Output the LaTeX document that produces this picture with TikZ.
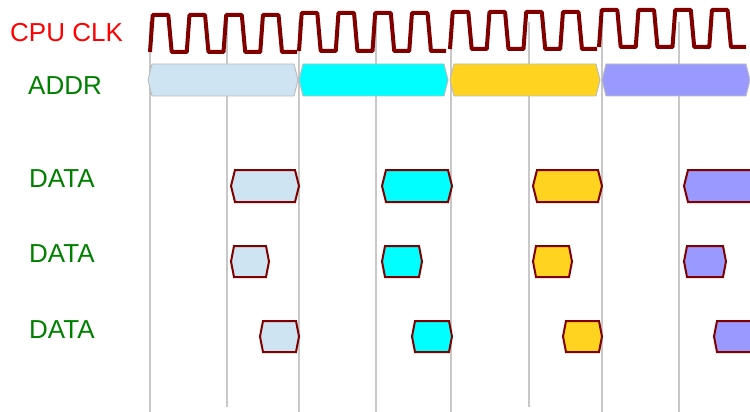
\documentclass[tikz,border=0pt]{standalone}
\usepackage{fontspec}
\setmainfont{Liberation Sans}
\definecolor{clkred}{HTML}{800000}
\definecolor{gridgray}{HTML}{C8C8C8}
\definecolor{addrgray}{HTML}{BBBBBB}
\definecolor{paleblue}{HTML}{CFE4F2}
\definecolor{cyanc}{HTML}{00FFFF}
\definecolor{goldc}{HTML}{FFD320}
\definecolor{peric}{HTML}{9999FF}
\definecolor{lblred}{HTML}{FF0000}
\definecolor{lblgreen}{HTML}{008000}
\newcommand\clkgroup[3]{%
  \draw[clkline] (#1,#3) foreach \k in {0,1,2,3} {
    -- ({#1+\k*36.75+2.7},#2) -- ({#1+\k*36.75+18.3},#2)
    -- ({#1+\k*36.75+21.7},#3) -- ({#1+\k*36.75+36.75},#3) };}
\newcommand\hexbar[6]{%
  \draw[#1] (#2,{(#4+#5)/2}) -- ({#2+#6},#4) -- ({#3-#6},#4) -- (#3,{(#4+#5)/2})
    -- ({#3-#6},#5) -- ({#2+#6},#5) -- cycle;}
\begin{document}
\begin{tikzpicture}[x=1pt,y=-1pt,
  gridline/.style={draw=gridgray,line width=1.2pt},
  clkline/.style={draw=clkred,line width=4pt,line join=round},
  addrbar/.style={draw=addrgray,line width=0.9pt},
  databox/.style={draw=clkred,line width=2pt,line join=miter},
  lbl/.style={anchor=base west,inner sep=0pt,font=\fontsize{26}{30}\selectfont}]
\clip (0,0) rectangle (750,412);
\fill[white] (0,0) rectangle (750,412);
% grid lines
\foreach \gx/\gb in {150/412,227/407,299/412,376/412,451/412,529/407,602/412,679/412}
  \draw[gridline] (\gx,22) -- (\gx,\gb);
% clock
\clkgroup{150}{15}{52}
\clkgroup{299}{13}{51}
\clkgroup{450}{12}{49}
\clkgroup{599}{10}{47}
% address bars
\hexbar{addrbar,fill=paleblue}{148}{298}{64}{96}{4}
\hexbar{addrbar,fill=cyanc}{299}{448}{64}{96}{4}
\hexbar{addrbar,fill=goldc}{450}{600}{64}{96}{4}
\hexbar{addrbar,fill=peric}{602}{750}{64}{96}{4}
% data row 1
\hexbar{databox,fill=paleblue}{231}{299}{170}{202}{4}
\hexbar{databox,fill=cyanc}{382}{452}{170}{202}{4}
\hexbar{databox,fill=goldc}{533}{602}{170}{202}{4}
\hexbar{databox,fill=peric}{684}{755}{170}{202}{4}
% data row 2
\hexbar{databox,fill=paleblue}{231}{269}{246}{277}{3}
\hexbar{databox,fill=cyanc}{382}{422}{246}{277}{3}
\hexbar{databox,fill=goldc}{533}{572}{246}{277}{3}
\hexbar{databox,fill=peric}{684}{726}{246}{277}{3}
% data row 3
\hexbar{databox,fill=paleblue}{260}{299}{321}{352}{3}
\hexbar{databox,fill=cyanc}{412}{452}{321}{352}{3}
\hexbar{databox,fill=goldc}{563}{602}{321}{352}{3}
\hexbar{databox,fill=peric}{714}{756}{321}{352}{3}
% labels
\node[lbl,text=lblred] (lclk) at (10,42) {CPU CLK};
\node[lbl,text=lblgreen] (laddr) at (28,95) {ADDR};
\node[lbl,text=lblgreen] (ldata1) at (29,187) {DATA};
\node[lbl,text=lblgreen] (ldata2) at (29,262) {DATA};
\node[lbl,text=lblgreen] (ldata3) at (29,338) {DATA};
\end{tikzpicture}
\end{document}
